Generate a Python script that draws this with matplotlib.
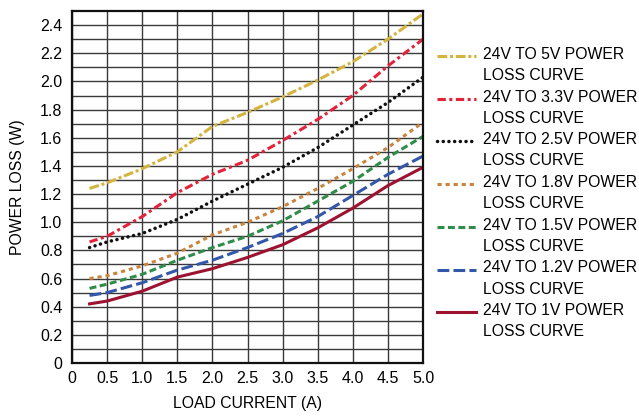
import matplotlib
matplotlib.use("Agg")
import matplotlib.pyplot as plt
from matplotlib.lines import Line2D

plt.rcParams["font.family"] = ["Liberation Sans", "DejaVu Sans"]
plt.rcParams["lines.scale_dashes"] = False

# load current (A)
current = [0.25, 0.5, 1.0, 1.5, 2.0, 2.5, 3.0, 3.5, 4.0, 4.5, 5.0]

# power loss (W) per output voltage
loss_5v0 = [1.24, 1.28, 1.38, 1.50, 1.68, 1.78, 1.89, 2.01, 2.14, 2.30, 2.48]
loss_3v3 = [0.86, 0.90, 1.04, 1.21, 1.34, 1.44, 1.58, 1.73, 1.90, 2.11, 2.30]
loss_2v5 = [0.82, 0.86, 0.92, 1.02, 1.15, 1.27, 1.39, 1.53, 1.69, 1.85, 2.03]
loss_1v8 = [0.60, 0.62, 0.69, 0.78, 0.91, 1.00, 1.11, 1.24, 1.38, 1.53, 1.71]
loss_1v5 = [0.53, 0.56, 0.63, 0.73, 0.82, 0.90, 1.01, 1.15, 1.29, 1.46, 1.61]
loss_1v2 = [0.48, 0.50, 0.57, 0.66, 0.73, 0.82, 0.92, 1.04, 1.19, 1.34, 1.47]
loss_1v0 = [0.42, 0.44, 0.51, 0.61, 0.67, 0.75, 0.84, 0.96, 1.10, 1.26, 1.39]

labels = [
    "24V TO 5V POWER\nLOSS CURVE",
    "24V TO 3.3V POWER\nLOSS CURVE",
    "24V TO 2.5V POWER\nLOSS CURVE",
    "24V TO 1.8V POWER\nLOSS CURVE",
    "24V TO 1.5V POWER\nLOSS CURVE",
    "24V TO 1.2V POWER\nLOSS CURVE",
    "24V TO 1V POWER\nLOSS CURVE",
]
series = [loss_5v0, loss_3v3, loss_2v5, loss_1v8, loss_1v5, loss_1v2, loss_1v0]

styles = [
    dict(color="#D4B43E", dashes=(7, 2, 2.2, 2)),
    dict(color="#E3233A", dashes=(6, 2.5, 2.2, 2.5)),
    dict(color="#111111", dashes=(0.1, 4.0), dash_capstyle="round", lw=2.5),
    dict(color="#C9843E", dashes=(3, 2.8)),
    dict(color="#2F8C49", dashes=(5, 2.5)),
    dict(color="#3457AA", dashes=(8.5, 3)),
    dict(color="#9C1230"),
]

fig = plt.figure(figsize=(6.39, 4.20), dpi=100)
ax = fig.add_axes([0.1127, 0.1357, 0.5493, 0.838])

for y, lab, st in zip(series, labels, styles):
    kw = dict(lw=2.2)
    kw.update(st)
    ax.plot(current, y, label=lab, **kw)

ax.set_xlim(0, 5.0)
ax.set_ylim(0, 2.5)
ax.set_xticks([0, 0.5, 1.0, 1.5, 2.0, 2.5, 3.0, 3.5, 4.0, 4.5, 5.0])
ax.set_xticklabels(["0", "0.5", "1.0", "1.5", "2.0", "2.5", "3.0", "3.5", "4.0", "4.5", "5.0"])
yt = [i / 10 for i in range(25)]
ax.set_yticks(yt)
ax.set_yticklabels(["0" if i == 0 else (f"{i / 10:.1f}" if i % 2 == 0 else "") for i in range(25)])
ax.tick_params(length=0, labelsize=11.5)
ax.tick_params(axis="x", pad=6)
ax.tick_params(axis="y", pad=7)
ax.grid(True, color="#3a3a3a", lw=1.0)
ax.set_axisbelow(True)
for sp in ax.spines.values():
    sp.set_linewidth(1.6)
    sp.set_color("#111111")

ax.set_xlabel("LOAD CURRENT (A)", fontsize=11.3, labelpad=7)
ax.set_ylabel("POWER LOSS (W)", fontsize=11.3, labelpad=11)

# legend drawn by hand so the handle sits on the first text line
y0 = 1 - 56 / 420
step = 42.7 / 420
for i, (lab, st) in enumerate(zip(labels, styles)):
    yy = y0 - i * step
    kw = dict(lw=2.2)
    kw.update(st)
    fig.add_artist(Line2D([437 / 639, 476 / 639], [yy, yy], transform=fig.transFigure, **kw))
    fig.text(483 / 639, yy + 9 / 420, lab, fontsize=11.3, va="top", ha="left", linespacing=1.5)

fig.savefig("out.png", dpi=100)
